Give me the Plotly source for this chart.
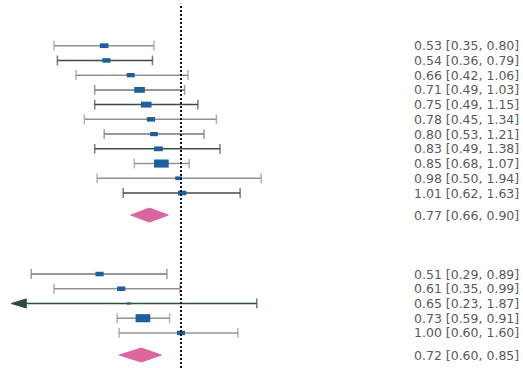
import numpy as np
import plotly.graph_objects as go

# ---- data ----
g1_est = [0.53, 0.54, 0.66, 0.71, 0.75, 0.78, 0.80, 0.83, 0.85, 0.98, 1.01]
g1_lo = [0.35, 0.36, 0.42, 0.49, 0.49, 0.45, 0.53, 0.49, 0.68, 0.50, 0.62]
g1_hi = [0.80, 0.79, 1.06, 1.03, 1.15, 1.34, 1.21, 1.38, 1.07, 1.94, 1.63]
g1_wt = [5.8, 5.5, 5.3, 7.1, 7.1, 5.5, 5.1, 5.8, 9.8, 4.5, 5.5]
g1_pooled = (0.77, 0.66, 0.90)

g2_est = [0.51, 0.61, 0.65, 0.73, 1.00]
g2_lo = [0.29, 0.35, 0.23, 0.59, 0.60]
g2_hi = [0.89, 0.99, 1.87, 0.91, 1.60]
g2_wt = [5.5, 5.5, 2.7, 9.8, 5.3]
g2_pooled = (0.72, 0.60, 0.85)

# ---- styles ----
DARK = "#3b4c4a"
GRAY = "#8f9493"
MID = "#6f7876"
g1_col = [GRAY, DARK, GRAY, MID, DARK, GRAY, MID, DARK, GRAY, GRAY, DARK]
g2_col = [MID, GRAY, "#2e4d3d", GRAY, GRAY]
BOX = "#1d5e9e"
DIAMOND = "#d9669f"
TEXT = "#5a5a5a"
FONT = dict(family="DejaVu Sans", size=12.5, color=TEXT)
ALIM_LO = 0.25  # lower clip limit of the axis (arrow drawn beyond)

PX_PER_LN = 121.0
PX_PER_ROW = 14.73

g1_pos = -np.arange(len(g1_est), dtype=float)
g1_dpos = g1_pos[-1] - 1.5
g2_pos = g1_dpos - 4.0 - np.arange(len(g2_est), dtype=float)
g2_dpos = g2_pos[-1] - 1.5

fig = go.Figure()
shapes = []
annotations = []


def fmt(e, l, h):
    return f"{e:.2f} [{l:.2f}, {h:.2f}]"


def add_label(text, y):
    annotations.append(dict(xref="paper", yref="y", x=520 / 523, y=y,
                            xanchor="right", yanchor="middle", borderpad=0,
                            text=text, showarrow=False, font=FONT))


def add_study(e, l, h, w, y, col):
    le, ll, lh = np.log(e), np.log(l), np.log(h)
    clipped = l < ALIM_LO
    x0 = np.log(ALIM_LO) if clipped else ll
    fig.add_trace(go.Scatter(
        x=[x0, lh], y=[y, y], mode="lines+markers",
        line=dict(color=col, width=1.5),
        marker=dict(symbol=["line-ns" if not clipped else "circle", "line-ns"],
                    size=[7, 7] if not clipped else [0, 7],
                    line=dict(color=col, width=1.5), color=col),
        hoverinfo="skip", showlegend=False))
    if clipped:
        aw = 15.0 / PX_PER_LN
        ah = 4.5 / PX_PER_ROW
        xa = np.log(ALIM_LO) - 2.0 / PX_PER_LN
        fig.add_trace(go.Scatter(
            x=[xa, xa + aw, xa + aw, xa], y=[y, y + ah, y - ah, y],
            fill="toself", fillcolor=col, line=dict(color=col, width=1),
            mode="lines", hoverinfo="skip", showlegend=False))
    bw = 1.5 * w
    bh = 0.55 * bw
    shapes.append(dict(type="rect", xref="x", yref="y",
                       xsizemode="pixel", ysizemode="pixel",
                       xanchor=le, yanchor=y,
                       x0=-bw / 2, x1=bw / 2, y0=-bh / 2, y1=bh / 2,
                       fillcolor=BOX, line=dict(width=0), layer="above"))
    add_label(fmt(e, l, h), y)


def add_pooled(p, y):
    e, l, h = p
    hh = 7.0 / PX_PER_ROW
    fig.add_trace(go.Scatter(
        x=[np.log(l), np.log(e), np.log(h), np.log(e), np.log(l)],
        y=[y, y + hh, y, y - hh, y], fill="toself", fillcolor=DIAMOND,
        line=dict(color=DIAMOND, width=1), mode="lines",
        hoverinfo="skip", showlegend=False))
    add_label(fmt(e, l, h), y)


for e, l, h, w, y, c in zip(g1_est, g1_lo, g1_hi, g1_wt, g1_pos, g1_col):
    add_study(e, l, h, w, y, c)
add_pooled(g1_pooled, g1_dpos)
for e, l, h, w, y, c in zip(g2_est, g2_lo, g2_hi, g2_wt, g2_pos, g2_col):
    add_study(e, l, h, w, y, c)
add_pooled(g2_pooled, g2_dpos)

# reference line at 1
shapes.append(dict(type="line", xref="x", yref="paper", x0=0, x1=0, y0=0, y1=0.99,
                   line=dict(color="#111111", width=2, dash="2px,2px"), layer="above"))

W, H = 523, 368
x_left = -181.0 / PX_PER_LN
x_right = (W - 181.0) / PX_PER_LN
y_top = 45.7 / PX_PER_ROW
y_bot = -(H - 45.7) / PX_PER_ROW

fig.update_layout(
    width=W, height=H, margin=dict(l=0, r=0, t=0, b=0),
    paper_bgcolor="white", plot_bgcolor="white",
    xaxis=dict(range=[x_left, x_right], visible=False, fixedrange=True),
    yaxis=dict(range=[y_bot, y_top], visible=False, fixedrange=True),
    shapes=shapes, annotations=annotations, showlegend=False,
)

fig.write_html("out.html")
